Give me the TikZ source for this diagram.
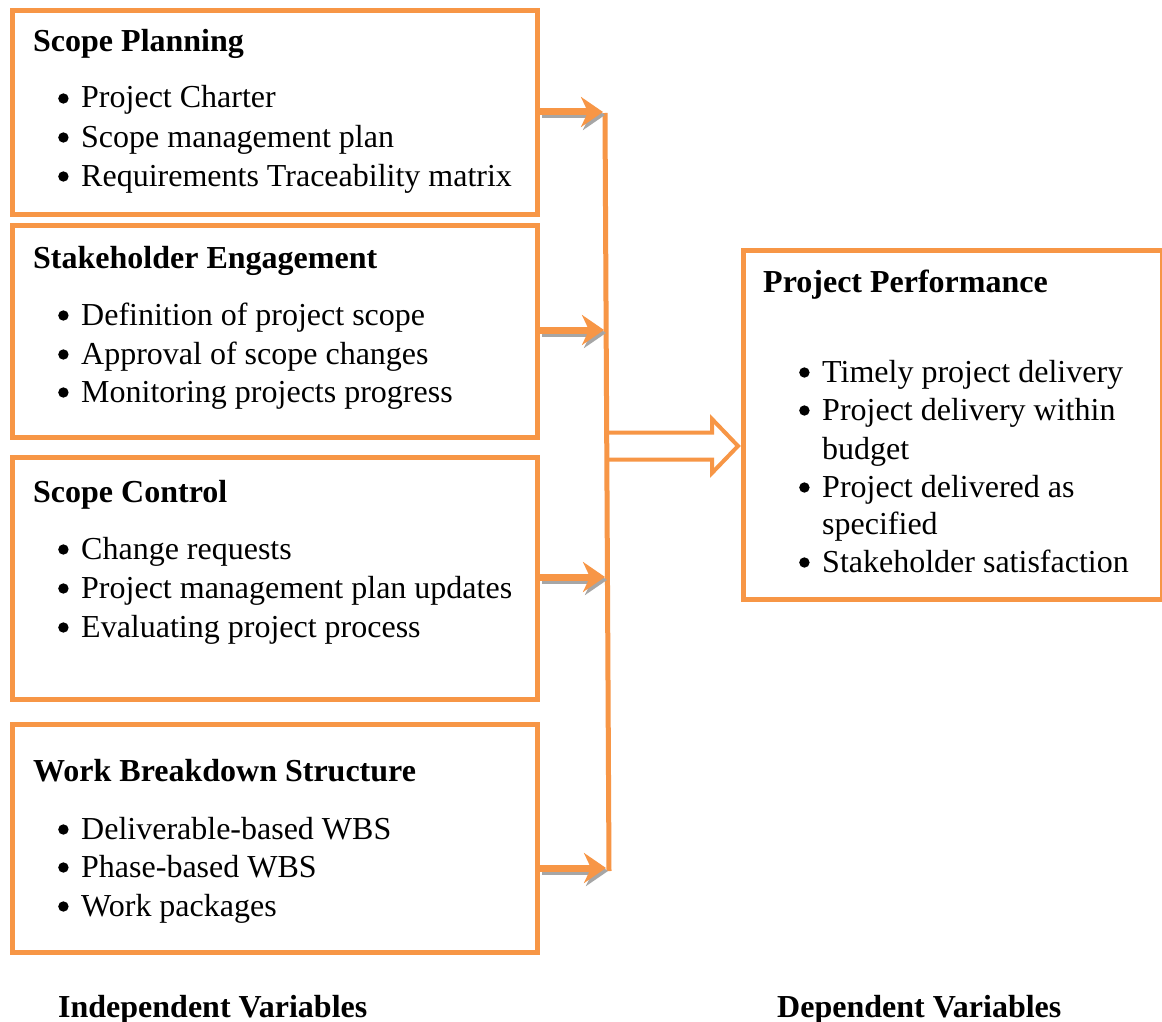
\documentclass[tikz,border=0pt]{standalone}
\usepackage{fontspec}
\setmainfont{Liberation Serif}
\usetikzlibrary{arrows.meta,calc}
\definecolor{accent}{HTML}{F79646}
\definecolor{shade}{HTML}{A6A6A6}
\newcommand{\txtsize}{\fontsize{32}{38}\selectfont}
% list bullet: a small filled disc on the x-height line
\newcommand{\bul}{\makebox[23pt][l]{\tikz[baseline=0pt]\fill[black] (5.5pt,9.5pt) circle (5.2pt);}}
\begin{document}
\begin{tikzpicture}[x=1pt,y=-1pt,
  box/.style={draw=accent, line width=5pt, fill=white, anchor=north west, inner sep=0pt},
  head/.style={anchor=base west, inner sep=0pt, yshift=-2pt, text height=22pt, text depth=6pt, font=\txtsize\bfseries},
  entry/.style={anchor=base west, inner sep=0pt, yshift=-2pt, text height=22pt, text depth=6pt, font=\txtsize},
  feed/.style={draw=accent, line width=7pt, -{Stealth[length=22pt,width=30pt,inset=7pt]}},
  feedshadow/.style={draw=shade, line width=7pt, -{Stealth[length=22pt,width=30pt,inset=7pt]}},
  busline/.style={draw=accent, line width=5pt},
  bigarrow/.style={draw=accent, line width=4pt, fill=white, line join=miter}]

\useasboundingbox[fill=white] (0,0) rectangle (1162,1022);

% independent-variable boxes
\node[box, minimum width=525pt, minimum height=204pt] (sp) at (10,8) {};
\node[box, minimum width=525pt, minimum height=212pt] (se) at (10,223) {};
\node[box, minimum width=525pt, minimum height=242pt] (sc) at (10,455) {};
\node[box, minimum width=525pt, minimum height=228pt] (wb) at (10,722) {};
% dependent-variable box
\node[box, minimum width=419pt, minimum height=349pt] (pp) at (741,248) {};

% Scope Planning
\node[head]  (sph) at (33,50)  {Scope Planning};
\node[entry] (sp1) at (58,106) {\bul Project Charter};
\node[entry] (sp2) at (58,145) {\bul Scope management plan};
\node[entry] (sp3) at (58,184) {\bul Requirements Traceability matrix};

% Stakeholder Engagement
\node[head]  (seh) at (33,266) {Stakeholder Engagement};
\node[entry] (se1) at (58,323) {\bul Definition of project scope};
\node[entry] (se2) at (58,362) {\bul Approval of scope changes};
\node[entry] (se3) at (58,400) {\bul Monitoring projects progress};

% Scope Control
\node[head]  (sch) at (33,500) {Scope Control};
\node[entry] (sc1) at (58,557) {\bul Change requests};
\node[entry] (sc2) at (58,596) {\bul Project management plan updates};
\node[entry] (sc3) at (58,635) {\bul Evaluating project process};

% Work Breakdown Structure
\node[head]  (wbh) at (33,779) {Work Breakdown Structure};
\node[entry] (wb1) at (58,837) {\bul Deliverable-based WBS};
\node[entry] (wb2) at (58,875) {\bul Phase-based WBS};
\node[entry] (wb3) at (58,914) {\bul Work packages};

% Project Performance
\node[head]  (pph) at (763,290) {Project Performance};
\node[entry] (pp1) at (799,380) {\bul Timely project delivery};
\node[entry] (pp2) at (799,418) {\bul Project delivery within};
\node[entry] (pp3) at (822,457) {budget};
\node[entry] (pp4) at (799,495) {\bul Project delivered as};
\node[entry] (pp5) at (822,532) {specified};
\node[entry] (pp6) at (799,570) {\bul Stakeholder satisfaction};

% captions
\node[head] (iv) at (58,1015)  {Independent Variables};
\node[head] (dv) at (777,1015) {Dependent Variables};

% collecting bus and its inputs
\coordinate (bt) at (605,113);
\coordinate (bb) at (609,871);
\coordinate (a1) at (603,112);
\coordinate (a2) at (604,330);
\coordinate (a3) at (605,577);
\coordinate (a4) at (606,868);

% hollow arrow from the bus to the dependent box
\coordinate (hm) at (608,446);
\draw[bigarrow] (hm) ++(0,-13.5) -- ++(104,0) -- ++(0,-13.5)
  -- ($(pp.west |- hm)+(-3,0)$) -- ($(hm)+(104,27)$) -- ++(0,-13.5) -- ++(-104,0);

\draw[busline] (bt) -- (bb);

\foreach \b/\a in {sp/a1, se/a2, sc/a3, wb/a4}{
  \draw[feedshadow] ([shift={(2,3)}]\b.east |- \a) -- ([shift={(2,3)}]\a);
  \draw[feed] (\b.east |- \a) -- (\a);
}
\end{tikzpicture}
\end{document}
